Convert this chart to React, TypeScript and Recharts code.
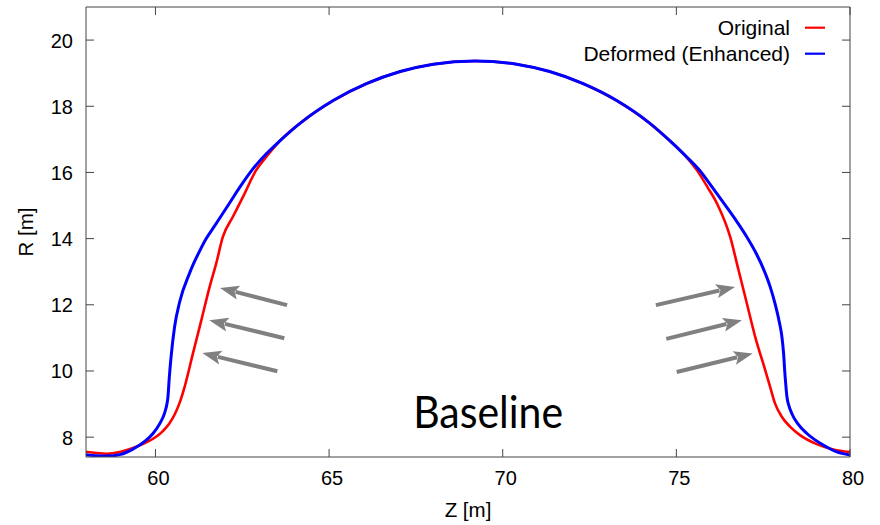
import React from 'react';
import { LineChart, Line, XAxis, YAxis, ReferenceLine, ReferenceDot, Legend } from 'recharts';

// Wall profile R(Z): original shape
const originalZ = [58.0, 58.3, 58.6, 59.0, 59.45, 59.75, 60.02, 60.22, 60.4, 60.56, 60.69, 60.84, 61.08, 61.32, 61.56, 61.75, 61.94, 62.23, 62.52, 62.9, 63.2, 63.59, 64.17, 65.13, 66.09, 67.05, 68.0, 69.2, 70.4, 71.35, 72.3, 73.27, 74.23, 74.81, 75.2, 75.59, 75.9, 76.17, 76.55, 76.79, 77.03, 77.27, 77.56, 77.7, 77.84, 78.04, 78.28, 78.56, 79.04, 79.52, 80.0];
const originalR = [7.56, 7.52, 7.5, 7.56, 7.71, 7.85, 8.01, 8.19, 8.41, 8.7, 9.02, 9.52, 10.53, 11.53, 12.54, 13.25, 14.05, 14.66, 15.26, 16.07, 16.48, 16.96, 17.49, 18.18, 18.69, 19.05, 19.27, 19.37, 19.27, 19.05, 18.69, 18.18, 17.49, 16.96, 16.57, 16.07, 15.55, 15.06, 14.05, 13.05, 12.04, 11.03, 10.02, 9.52, 9.02, 8.61, 8.31, 8.06, 7.79, 7.63, 7.55];

// Wall profile R(Z): deformed (enhanced) shape
const deformedZ = [58.0, 58.3, 58.6, 59.0, 59.35, 59.7, 59.93, 60.12, 60.26, 60.33, 60.36, 60.4, 60.45, 60.55, 60.7, 60.98, 61.1, 61.27, 61.45, 61.65, 61.9, 62.13, 62.44, 62.8, 63.2, 63.59, 64.17, 65.13, 66.09, 67.05, 68.0, 69.2, 70.4, 71.35, 72.3, 73.27, 74.23, 74.81, 75.2, 75.68, 76.0, 76.36, 76.7, 77.03, 77.3, 77.51, 77.7, 77.84, 77.96, 78.04, 78.09, 78.12, 78.15, 78.18, 78.24, 78.33, 78.5, 78.76, 79.23, 79.6, 80.0];
const deformedR = [7.47, 7.44, 7.43, 7.48, 7.64, 7.88, 8.11, 8.4, 8.72, 9.0, 9.22, 9.82, 10.43, 11.33, 12.1, 12.95, 13.25, 13.62, 13.98, 14.3, 14.7, 15.07, 15.57, 16.1, 16.57, 16.96, 17.49, 18.18, 18.69, 19.05, 19.27, 19.37, 19.27, 19.05, 18.69, 18.18, 17.49, 16.96, 16.57, 16.05, 15.6, 15.08, 14.58, 14.05, 13.55, 13.08, 12.55, 12.04, 11.5, 11.03, 10.5, 10.0, 9.6, 9.25, 8.95, 8.7, 8.4, 8.11, 7.76, 7.56, 7.46];

// Displacement arrows (tail -> tip) in data coordinates
const arrowTailZ = [63.79, 63.71, 63.51, 74.41, 74.71, 75.01];
const arrowTailR = [11.99, 10.99, 9.99, 11.99, 10.97, 9.97];
const arrowTipZ = [61.86, 61.55, 61.35, 76.69, 76.89, 77.2];
const arrowTipR = [12.51, 11.535, 10.54, 12.54, 11.535, 10.53];

const seriesNames = ['Original', 'Deformed (Enhanced)'];
const zTicks = [60, 65, 70, 75, 80];
const rTicks = [8, 10, 12, 14, 16, 18, 20];
const zDomain: [number, number] = [58, 80];
const rDomain: [number, number] = [7.4, 21];
const caseLabel = { z: 69.58, r: 8.27, text: 'Baseline' };

const originalData = originalZ.map((z, i) => ({ z, r: originalR[i] }));
const deformedData = deformedZ.map((z, i) => ({ z, r: deformedR[i] }));
const arrows = arrowTailZ.map((z, i) => ({
  tail: { x: z, y: arrowTailR[i] },
  tip: { x: arrowTipZ[i], y: arrowTipR[i] },
}));

const W = 880;
const H = 525;
const PLOT = { left: 86, top: 7, right: 850, bottom: 457 };
const FONT = '"Liberation Sans", Arial, Helvetica, sans-serif';
const AXIS = '#444';
const TICK_LEN = 8;

const BottomTick = (p: any) => (
  <g>
    <line x1={p.x} y1={PLOT.bottom} x2={p.x} y2={PLOT.bottom - TICK_LEN} stroke={AXIS} strokeWidth={1} />
    <text x={p.x + 3} y={PLOT.bottom + 28} textAnchor="middle" fontFamily={FONT} fontSize={20} fill="#000">
      {p.payload.value}
    </text>
  </g>
);

const TopTick = (p: any) => (
  <line x1={p.x} y1={PLOT.top} x2={p.x} y2={PLOT.top + TICK_LEN} stroke={AXIS} strokeWidth={1} />
);

const LeftTick = (p: any) => (
  <g>
    <line x1={PLOT.left} y1={p.y} x2={PLOT.left + TICK_LEN} y2={p.y} stroke={AXIS} strokeWidth={1} />
    <text x={73} y={p.y + 7.5} textAnchor="end" fontFamily={FONT} fontSize={20} fill="#000">
      {p.payload.value}
    </text>
  </g>
);

const RightTick = (p: any) => (
  <line x1={PLOT.right} y1={p.y} x2={PLOT.right - TICK_LEN} y2={p.y} stroke={AXIS} strokeWidth={1} />
);

const zTitle = () => (
  <text x={(PLOT.left + PLOT.right) / 2} y={517} textAnchor="middle" fontFamily={FONT} fontSize={20.5} fill="#000">
    Z [m]
  </text>
);

const rTitle = () => {
  const cx = 33;
  const cy = (PLOT.top + PLOT.bottom) / 2;
  return (
    <text x={cx} y={cy} transform={`rotate(-90 ${cx} ${cy})`} textAnchor="middle" fontFamily={FONT} fontSize={20.5} fill="#000">
      R [m]
    </text>
  );
};

// Filled arrow from (x1,y1) to head at (x2,y2)
const Arrow = (p: any) => {
  const { x1, y1, x2, y2 } = p;
  const dx = x2 - x1;
  const dy = y2 - y1;
  const len = Math.hypot(dx, dy) || 1;
  const ux = dx / len;
  const uy = dy / len;
  const nx = -uy;
  const ny = ux;
  const headLen = 19;
  const headHalf = 7;
  const bx = x2 - ux * headLen;
  const by = y2 - uy * headLen;
  const pts = `${x2},${y2} ${bx + nx * headHalf},${by + ny * headHalf} ${bx + ux * 4},${by + uy * 4} ${bx - nx * headHalf},${by - ny * headHalf}`;
  return (
    <g>
      <line x1={x1} y1={y1} x2={bx + ux * 3} y2={by + uy * 3} stroke="#808080" strokeWidth={4} />
      <polygon points={pts} fill="#808080" />
    </g>
  );
};

const renderLegend = (props: any) => {
  const payload = [...(props.payload || [])].sort(
    (a: any, b: any) => seriesNames.indexOf(a.value) - seriesNames.indexOf(b.value)
  );
  return (
    <svg width={W} height={70} style={{ display: 'block' }}>
      {payload.map((entry: any, i: number) => (
        <g key={entry.value}>
          <text x={790} y={35 + i * 26} textAnchor="end" fontFamily={FONT} fontSize={21} fill="#000">
            {entry.value}
          </text>
          <line x1={805} y1={27.7 + i * 26} x2={825} y2={27.7 + i * 26} stroke={entry.color} strokeWidth={2.2} />
        </g>
      ))}
    </svg>
  );
};

const CaseText = (p: any) => (
  <text
    x={p.cx}
    y={p.cy}
    textAnchor="middle"
    fontFamily='Lato, "Open Sans", sans-serif'
    fontSize={45}
    textLength={150}
    lengthAdjust="spacingAndGlyphs"
    fill="#000"
  >
    {caseLabel.text}
  </text>
);

export default function App() {
  return (
    <div style={{ position: 'absolute', left: 0, top: 0, width: W, height: H, background: '#fff' }}>
      <LineChart width={W} height={H} margin={{ top: 0, right: 0, bottom: 0, left: 0 }} style={{ fontFamily: FONT }}>
        <XAxis
          type="number"
          dataKey="z"
          domain={zDomain}
          ticks={zTicks}
          interval={0}
          allowDataOverflow
          height={68}
          axisLine={{ stroke: AXIS, strokeWidth: 1 }}
          tickLine={false}
          tick={BottomTick}
          label={zTitle}
        />
        <XAxis
          xAxisId="top"
          orientation="top"
          type="number"
          dataKey="z"
          domain={zDomain}
          ticks={zTicks}
          interval={0}
          allowDataOverflow
          height={7}
          axisLine={{ stroke: AXIS, strokeWidth: 1 }}
          tickLine={false}
          tick={TopTick}
        />
        <YAxis
          type="number"
          dataKey="r"
          domain={rDomain}
          ticks={rTicks}
          interval={0}
          allowDataOverflow
          width={86}
          axisLine={{ stroke: AXIS, strokeWidth: 1 }}
          tickLine={false}
          tick={LeftTick}
          label={rTitle}
        />
        <YAxis
          yAxisId="right"
          orientation="right"
          type="number"
          dataKey="r"
          domain={rDomain}
          ticks={rTicks}
          interval={0}
          allowDataOverflow
          width={30}
          axisLine={{ stroke: AXIS, strokeWidth: 1 }}
          tickLine={false}
          tick={RightTick}
        />
        <Legend
          content={renderLegend}
          layout="horizontal"
          verticalAlign="middle"
          align="center"
          wrapperStyle={{ position: 'absolute', left: 0, top: 0, width: W, height: 70, pointerEvents: 'none' }}
        />
        {arrows.map((a, i) => (
          <ReferenceLine key={`arrow-${i}`} segment={[a.tail, a.tip]} shape={Arrow} ifOverflow="visible" />
        ))}
        <ReferenceDot x={caseLabel.z} y={caseLabel.r} r={0} shape={CaseText} ifOverflow="visible" />
        <Line
          data={originalData}
          dataKey="r"
          name={seriesNames[0]}
          type="monotone"
          stroke="#ff0000"
          strokeWidth={2.6}
          dot={false}
          activeDot={false}
          isAnimationActive={false}
        />
        <Line
          data={deformedData}
          dataKey="r"
          name={seriesNames[1]}
          type="monotone"
          stroke="#0000ff"
          strokeWidth={3}
          dot={false}
          activeDot={false}
          isAnimationActive={false}
        />
      </LineChart>
    </div>
  );
}
